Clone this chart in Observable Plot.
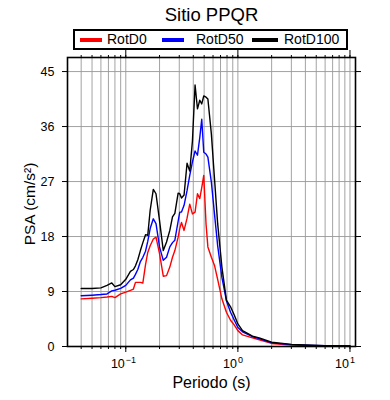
<!DOCTYPE html>
<html><head><meta charset="utf-8">
<script src="https://cdn.jsdelivr.net/npm/d3@7"></script>
<script src="https://cdn.jsdelivr.net/npm/@observablehq/plot@0.6"></script>
<style>
body{margin:0;background:#fff;font-family:"Liberation Sans",Arial,sans-serif;}
#wrap{position:relative;width:390px;height:400px;}
#legend{position:absolute;left:73px;top:29px;width:271px;height:17px;border:2px solid #000;background:#fff;}
#legend .sw{position:absolute;top:7px;height:4px;width:22px;}
#legend .lb{position:absolute;top:0;line-height:17px;font-size:14px;color:#000;white-space:nowrap;}
</style></head>
<body><div id="wrap"><div id="chart"></div><div id="legend"></div></div>
<script>
const title = "Sitio PPQR";
const xLabel = "Periodo (s)";
const yLabel = "PSA (cm/s²)";
const seriesNames = ["RotD0", "RotD50", "RotD100"];
const seriesColors = ["#ff0000", "#0000ff", "#000000"];
const periods = [0.04,0.05,0.06,0.068,0.075,0.08,0.09,0.1,0.11,0.117,0.122,0.128,0.135,0.142,0.15,0.157,0.165,0.176,0.186,0.2,0.216,0.231,0.247,0.261,0.274,0.293,0.303,0.314,0.331,0.352,0.372,0.393,0.415,0.436,0.457,0.476,0.496,0.52,0.54,0.58,0.62,0.66,0.72,0.79,0.86,0.93,1.0,1.1,1.35,1.55,2.0,3.0,4.0,6.0,10.0];
const rotD0 = [7.8,7.9,8.0,8.1,8.2,8.0,8.6,8.9,9.2,9.4,10.5,10.5,10.5,10.4,13.4,15.4,16.5,17.6,17.9,15.2,11.5,11.6,13.0,14.6,15.7,17.9,19.3,20.3,19.0,21.0,23.3,21.7,22.0,25.0,24.2,26.0,28.0,20.0,16.3,14.6,13.2,11.0,7.8,5.6,4.3,3.5,2.6,1.9,1.4,1.1,0.5,0.25,0.15,0.1,0.07];
const rotD50 = [8.3,8.4,8.5,8.6,9.1,9.2,9.5,10.0,10.9,11.2,11.8,12.6,13.9,14.6,15.6,17.2,19.3,20.9,20.1,16.3,14.1,14.6,16.3,17.0,17.4,20.5,22.0,22.0,23.1,25.5,28.0,30.2,32.0,31.3,34.2,37.2,31.8,31.5,31.0,26.9,21.5,16.5,11.3,7.5,5.6,4.3,3.1,2.4,1.6,1.3,0.6,0.3,0.2,0.12,0.08];
const rotD100 = [9.5,9.5,9.6,10.0,10.4,9.8,10.1,11.0,12.3,12.6,13.2,14.2,15.7,17.0,18.3,18.2,22.3,25.7,25.0,20.6,15.7,17.1,19.0,21.2,21.8,25.1,25.0,24.3,24.8,30.0,28.7,33.6,42.8,38.9,40.3,39.7,41.0,40.8,40.5,34.8,27.2,20.1,13.0,7.6,6.5,5.1,3.7,2.6,1.7,1.4,0.7,0.35,0.25,0.15,0.1];
const yTicks = [0, 9, 18, 27, 36, 45];
const xMajor = [0.1, 1, 10];
const xExp = ["−1", "0", "1"];

const seriesValues = [rotD0, rotD50, rotD100];
const rows = [];
seriesNames.forEach((s, i) => periods.forEach((p, j) => rows.push({series: s, T: p, psa: seriesValues[i][j]})));
const xMinor = [];
for (let k = -2; k <= 1; k++) for (let d = 1; d <= 9; d++) {
  const v = d * Math.pow(10, k);
  if (v >= 0.031 && v <= 11) xMinor.push(+v.toPrecision(3));
}

const chart = Plot.plot({
  width: 390, height: 400,
  marginLeft: 67, marginRight: 35, marginTop: 57, marginBottom: 54,
  style: {fontFamily: "Liberation Sans, Arial, sans-serif", background: "#fff"},
  x: {type: "log", domain: [0.0302, 11.2], axis: null},
  y: {domain: [0, 47.3], axis: null},
  color: {domain: seriesNames, range: seriesColors},
  marks: [
    Plot.gridX(xMinor, {stroke: "#999", strokeOpacity: 1, strokeWidth: 0.9}),
    Plot.gridY(yTicks, {stroke: "#999", strokeOpacity: 1, strokeWidth: 0.9}),
    Plot.axisX(xMinor, {anchor: "bottom", tickSize: 3, tickFormat: () => "", label: null, stroke: "#000"}),
    Plot.axisX(xMajor, {anchor: "bottom", tickSize: 6, tickFormat: () => "", label: null, stroke: "#000"}),
    Plot.axisX(xMinor, {anchor: "top", tickSize: 3, tickFormat: () => "", label: null, stroke: "#000"}),
    Plot.axisX(xMajor, {anchor: "top", tickSize: 8, tickFormat: () => "", label: null, stroke: "#000"}),
    Plot.axisY(yTicks, {anchor: "left", tickSize: 5, tickPadding: 8, fontSize: 12.5, label: null, stroke: "#000", fill: "#000"}),
    Plot.axisY(yTicks, {anchor: "right", tickSize: 5, tickFormat: () => "", label: null, stroke: "#000"}),
    Plot.text(xMajor, {x: d => d, frameAnchor: "bottom", lineAnchor: "middle", dy: 17, dx: -1, text: () => "10", textAnchor: "end", fontSize: 12.5, fill: "#000"}),
    Plot.text(xMajor, {x: d => d, frameAnchor: "bottom", lineAnchor: "middle", dy: 13.5, dx: 0, text: (d, i) => xExp[i], textAnchor: "start", fontSize: 9, fill: "#000"}),
    Plot.line(rows, {x: "T", y: "psa", z: "series", stroke: "series", strokeWidth: 1.4}),
    Plot.frame({stroke: "#000", strokeWidth: 1.6}),
    Plot.text([title], {frameAnchor: "top", lineAnchor: "middle", dy: -42, text: d => d, fontSize: 18.5, fill: "#000"}),
    Plot.text([xLabel], {frameAnchor: "bottom", lineAnchor: "middle", dy: 36.5, text: d => d, fontSize: 16, fill: "#000"}),
    Plot.text([yLabel], {frameAnchor: "left", textAnchor: "middle", lineAnchor: "middle", dx: -37, dy: 2, rotate: -90, text: d => d, fontSize: 15.5, fill: "#000"})
  ]
});
document.getElementById("chart").appendChild(chart);

const legend = document.getElementById("legend");
const swLeft = [5, 87, 177];
const lbLeft = [32, 121, 209];
seriesNames.forEach((s, i) => {
  const sw = document.createElement("div");
  sw.className = "sw"; sw.style.left = swLeft[i] + "px"; sw.style.background = seriesColors[i];
  if (i === 2) sw.style.width = "26px";
  legend.appendChild(sw);
  const lb = document.createElement("div");
  lb.className = "lb"; lb.style.left = lbLeft[i] + "px"; lb.textContent = s;
  legend.appendChild(lb);
});
</script>
</body></html>
